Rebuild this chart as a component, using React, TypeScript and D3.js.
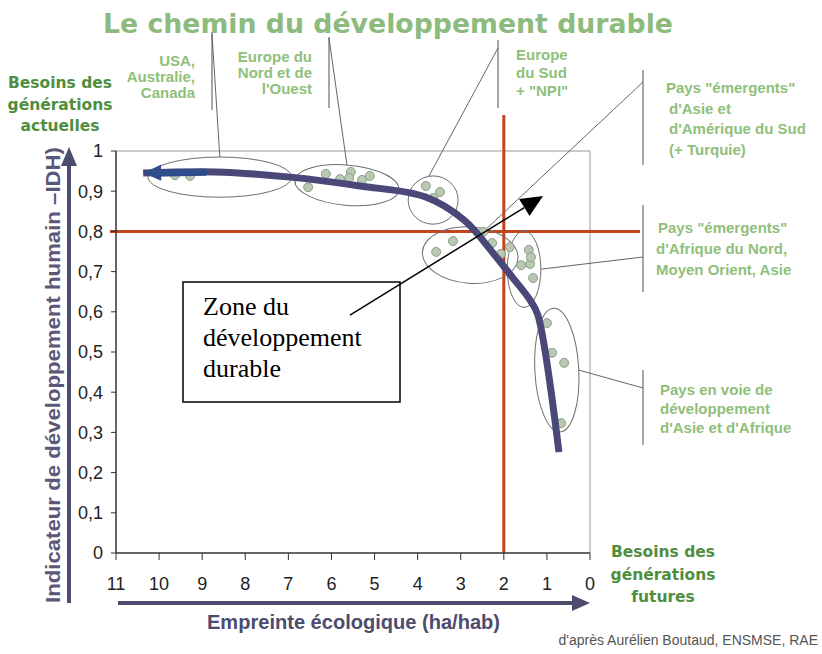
import React from "react";
import * as d3 from "d3";

const W = 822;
const H = 654;

// Main path: ecological footprint (ha/hab) vs HDI
const pathFootprint = [10.37, 8.7, 6.96, 5.34, 3.83, 2.92, 2.27, 1.81, 1.39, 1.21, 0.72];
const pathHdi = [0.945, 0.948, 0.935, 0.913, 0.886, 0.828, 0.749, 0.687, 0.629, 0.592, 0.251];

// Country points
const countryFootprint = [9.63, 9.28, 6.13, 5.8, 5.55, 5.59, 5.29, 5.11, 6.54, 3.81, 3.48, 3.64, 3.57, 3.18, 2.48, 2.27, 2.07, 1.86, 1.42, 1.39, 1.6, 1.32, 1.37, 1.0, 0.88, 0.6, 0.67];
const countryHdi = [0.94, 0.938, 0.943, 0.93, 0.948, 0.933, 0.928, 0.938, 0.91, 0.913, 0.898, 0.883, 0.749, 0.776, 0.799, 0.771, 0.744, 0.761, 0.754, 0.719, 0.716, 0.684, 0.736, 0.572, 0.498, 0.473, 0.323];

// Group ellipses (data units)
const groupCx = [8.59, 5.64, 3.64, 2.78, 1.53, 0.77];
const groupCy = [0.935, 0.915, 0.878, 0.741, 0.706, 0.455];
const groupRx = [1.67, 1.21, 0.58, 1.11, 0.39, 0.51];
const groupRy = [0.05, 0.05, 0.06, 0.07, 0.095, 0.154];
const groupTilt = [0, 5, 0, 4, 0, -3];
const leaderAngle = [90, 90, 100, 70, 0, 0];

// Group labels
const groupLabels = [
  ["USA,", "Australie,", "Canada"],
  ["Europe du", "Nord et de", "l'Ouest"],
  ["Europe", "du Sud", "+ \"NPI\""],
  ["Pays \"émergents\"", "d'Asie et", "d'Amérique du Sud", "(+ Turquie)"],
  ["Pays \"émergents\"", "d'Afrique du Nord,", "Moyen Orient, Asie"],
  ["Pays en voie de", "développement", "d'Asie et d'Afrique"],
];

const yTickValues = [0, 0.1, 0.2, 0.3, 0.4, 0.5, 0.6, 0.7, 0.8, 0.9, 1];
const xTickValues = [11, 10, 9, 8, 7, 6, 5, 4, 3, 2, 1, 0];

const hdiThreshold = 0.8;
const footprintThreshold = 2;

// Black arrow (zone of sustainable development)
const zoneArrowFrom = [5.57, 0.592];
const zoneArrowTo = [1.09, 0.888];

const GREEN_LIGHT = "#8fbf7a";
const GREEN_DARK = "#4f8e3f";
const AXIS_PURPLE = "#4d4b6e";
const RED = "#c4441c";

const fmtY = (v: number) => (v === 0 ? "0" : v === 1 ? "1" : d3.format(".1f")(v).replace(".", ","));

export default function App() {
  const x = d3.scaleLinear().domain([11, 0]).range([116, 590]);
  const y = d3.scaleLinear().domain([0, 1]).range([553, 151]);

  const pathPts: [number, number][] = pathFootprint.map((f, i) => [x(f), y(pathHdi[i])]);
  const line = d3.line().curve(d3.curveCatmullRom.alpha(0.5));
  const mainD = line(pathPts) || "";

  // arrow head at start
  const [p0, p1] = [pathPts[0], pathPts[1]];
  const ang = Math.atan2(p0[1] - p1[1], p0[0] - p1[0]);
  const hl = 18, hw = 8;
  const base = [p0[0] - hl * Math.cos(ang), p0[1] - hl * Math.sin(ang)];
  const head = `M${p0[0]},${p0[1]} L${base[0] + hw * Math.sin(ang)},${base[1] - hw * Math.cos(ang)} L${base[0] - hw * Math.sin(ang)},${base[1] + hw * Math.cos(ang)} Z`;

  const ellipsePoint = (i: number, deg: number) => {
    const t = (deg * Math.PI) / 180;
    return [x(groupCx[i] - groupRx[i] * Math.cos(t)), y(groupCy[i] + groupRy[i] * Math.sin(t))];
  };

  // brackets (layout)
  const brackets = [
    { x: 212, y1: 32, y2: 110, sy: 34 },
    { x: 329, y1: 37, y2: 108, sy: 38 },
    { x: 498, y1: 40, y2: 108, sy: 48 },
    { x: 643, y1: 70, y2: 165, sy: 82 },
    { x: 643, y1: 205, y2: 292, sy: 257 },
    { x: 643, y1: 370, y2: 445, sy: 388 },
  ];
  const labelPos = [
    { x: 195, y: 66, anchor: "end", dy: 16, x0: 195 },
    { x: 312, y: 62, anchor: "end", dy: 16, x0: 312 },
    { x: 516, y: 60, anchor: "start", dy: 18, x0: 516 },
    { x: 669, y: 93, anchor: "start", dy: 20.5, x0: 666 },
    { x: 656, y: 233, anchor: "start", dy: 21, x0: 658 },
    { x: 660, y: 395, anchor: "start", dy: 19, x0: 660 },
  ];

  // zone arrow
  const za0 = [x(zoneArrowFrom[0]), y(zoneArrowFrom[1])];
  const za1 = [x(zoneArrowTo[0]), y(zoneArrowTo[1])];
  const zAng = Math.atan2(za1[1] - za0[1], za1[0] - za0[0]);
  const zhl = 22, zhw = 10;
  const zb = [za1[0] - zhl * Math.cos(zAng), za1[1] - zhl * Math.sin(zAng)];
  const zHead = `M${za1[0]},${za1[1]} L${zb[0] + zhw * Math.sin(zAng)},${zb[1] - zhw * Math.cos(zAng)} L${zb[0] - zhw * Math.sin(zAng)},${zb[1] + zhw * Math.cos(zAng)} Z`;

  return (
    <svg width={W} height={H} style={{ position: "absolute", left: 0, top: 0, background: "#fff" }}>
      <rect width={W} height={H} fill="#fff" />
      {/* Title */}
      <text x={103} y={33} fontFamily="DejaVu Sans" fontWeight="bold" fontSize={27} fill="#8dbb7d" textLength={570} lengthAdjust="spacingAndGlyphs">
        Le chemin du développement durable
      </text>

      {/* Frame */}
      <line x1={x(11)} x2={x(0)} y1={y(1)} y2={y(1)} stroke="#9a9a9a" strokeWidth={1} />
      <line x1={x(0)} x2={x(0)} y1={y(1)} y2={y(0)} stroke="#9a9a9a" strokeWidth={1} />

      {/* Red threshold lines */}
      <line x1={110} x2={640} y1={y(hdiThreshold)} y2={y(hdiThreshold)} stroke={RED} strokeWidth={3} />
      <line x1={x(footprintThreshold)} x2={x(footprintThreshold)} y1={115} y2={y(0)} stroke={RED} strokeWidth={3} />

      {/* Ellipses */}
      {groupCx.map((cx, i) => (
        <ellipse
          key={"e" + i}
          cx={x(cx)}
          cy={y(groupCy[i])}
          rx={x(0) - x(groupRx[i])}
          ry={y(0) - y(groupRy[i])}
          fill="none"
          stroke="#6e6e6e"
          strokeWidth={1}
          transform={`rotate(${groupTilt[i]} ${x(cx)} ${y(groupCy[i])})`}
        />
      ))}

      {/* Points */}
      {countryFootprint.map((f, i) => (
        <circle key={"c" + i} cx={x(f)} cy={y(countryHdi[i])} r={4.5} fill="#b7c9b1" stroke="#8d9c8a" strokeWidth={1} />
      ))}

      {/* Brackets and leaders */}
      {brackets.map((b, i) => {
        const e = ellipsePoint(i, leaderAngle[i]);
        return (
          <g key={"b" + i}>
            <line x1={b.x} x2={b.x} y1={b.y1} y2={b.y2} stroke="#8a8a8a" strokeWidth={1.5} />
            <line x1={b.x} y1={b.sy} x2={e[0]} y2={e[1]} stroke="#555" strokeWidth={0.9} />
          </g>
        );
      })}

      {/* Main path */}
      <path d={mainD} fill="none" stroke="#4a4878" strokeWidth={7} strokeLinejoin="round" />
      <line x1={pathPts[0][0] + 10} x2={x(8.9)} y1={pathPts[0][1] + 0.2} y2={y(0.947)} stroke="#2f4d8c" strokeWidth={7} />
      <path d={head} fill="#2f4d8c" />

      {/* Group labels */}
      {groupLabels.map((lines, i) => (
        <text key={"l" + i} fontFamily="Liberation Sans, Arial, sans-serif" fontWeight="bold" fontSize={15} fill={GREEN_LIGHT} textAnchor={labelPos[i].anchor as any}>
          {lines.map((ln, j) => (
            <tspan key={j} x={j === 0 ? labelPos[i].x0 : labelPos[i].x} y={labelPos[i].y + j * labelPos[i].dy}>
              {ln}
            </tspan>
          ))}
        </text>
      ))}

      {/* Axes */}
      <line x1={x(11)} x2={x(11)} y1={y(0)} y2={y(1)} stroke="#333" strokeWidth={1.5} />
      <line x1={x(11)} x2={x(0)} y1={y(0)} y2={y(0)} stroke="#333" strokeWidth={1.5} />
      {yTickValues.map((v) => (
        <g key={"yt" + v}>
          <line x1={x(11) - 5} x2={x(11)} y1={y(v)} y2={y(v)} stroke="#333" strokeWidth={1} />
          <text x={103} y={y(v)} dy="0.35em" textAnchor="end" fontFamily="Liberation Sans, Arial, sans-serif" fontSize={18} fill="#222">
            {fmtY(v)}
          </text>
        </g>
      ))}
      {xTickValues.map((v) => (
        <g key={"xt" + v}>
          <line x1={x(v)} x2={x(v)} y1={y(0)} y2={y(0) + 7} stroke="#333" strokeWidth={1} />
          <text x={x(v)} y={590} textAnchor="middle" fontFamily="Liberation Sans, Arial, sans-serif" fontSize={18} fill="#222">
            {v}
          </text>
        </g>
      ))}

      {/* Axis arrows */}
      <line x1={69} x2={69} y1={603} y2={162} stroke={AXIS_PURPLE} strokeWidth={4} />
      <path d="M69,147 L61,166 L77,166 Z" fill={AXIS_PURPLE} />
      <line x1={118} x2={576} y1={603} y2={603} stroke={AXIS_PURPLE} strokeWidth={4} />
      <path d="M590,603 L572,595 L572,611 Z" fill={AXIS_PURPLE} />

      {/* Axis titles */}
      <text transform="translate(60,375) rotate(-90)" textAnchor="middle" fontFamily="Liberation Sans, Arial, sans-serif" fontWeight="bold" fontSize={21} fill="#5a5878" textLength={456} lengthAdjust="spacingAndGlyphs">
        Indicateur de développement humain –IDH)
      </text>
      <text x={207} y={629} fontFamily="Liberation Sans, Arial, sans-serif" fontWeight="bold" fontSize={20} fill="#4d4b6e" textLength={293} lengthAdjust="spacingAndGlyphs">
        Empreinte écologique (ha/hab)
      </text>

      {/* Needs labels */}
      <text fontFamily="DejaVu Sans" fontWeight="bold" fontSize={15.5} fill={GREEN_DARK} textAnchor="middle">
        <tspan x={60} y={88}>Besoins des</tspan>
        <tspan x={60} y={110}>générations</tspan>
        <tspan x={60} y={131}>actuelles</tspan>
      </text>
      <text fontFamily="DejaVu Sans" fontWeight="bold" fontSize={15.5} fill={GREEN_DARK} textAnchor="middle">
        <tspan x={663} y={557}>Besoins des</tspan>
        <tspan x={663} y={580}>générations</tspan>
        <tspan x={663} y={602}>futures</tspan>
      </text>

      {/* Zone box */}
      <rect x={183} y={282} width={217} height={120} fill="#fff" stroke="#000" strokeWidth={1.5} />
      <text fontFamily="Liberation Serif, Times New Roman, serif" fontSize={26} fill="#000">
        <tspan x={203} y={315}>Zone du</tspan>
        <tspan x={203} y={346}>développement</tspan>
        <tspan x={203} y={377}>durable</tspan>
      </text>
      <line x1={za0[0]} y1={za0[1]} x2={zb[0]} y2={zb[1]} stroke="#000" strokeWidth={1.5} />
      <path d={zHead} fill="#000" />

      {/* Credit */}
      <text x={818} y={645} textAnchor="end" fontFamily="Liberation Sans, Arial, sans-serif" fontSize={14} fill="#555">
        d'après Aurélien Boutaud, ENSMSE, RAE
      </text>
    </svg>
  );
}
